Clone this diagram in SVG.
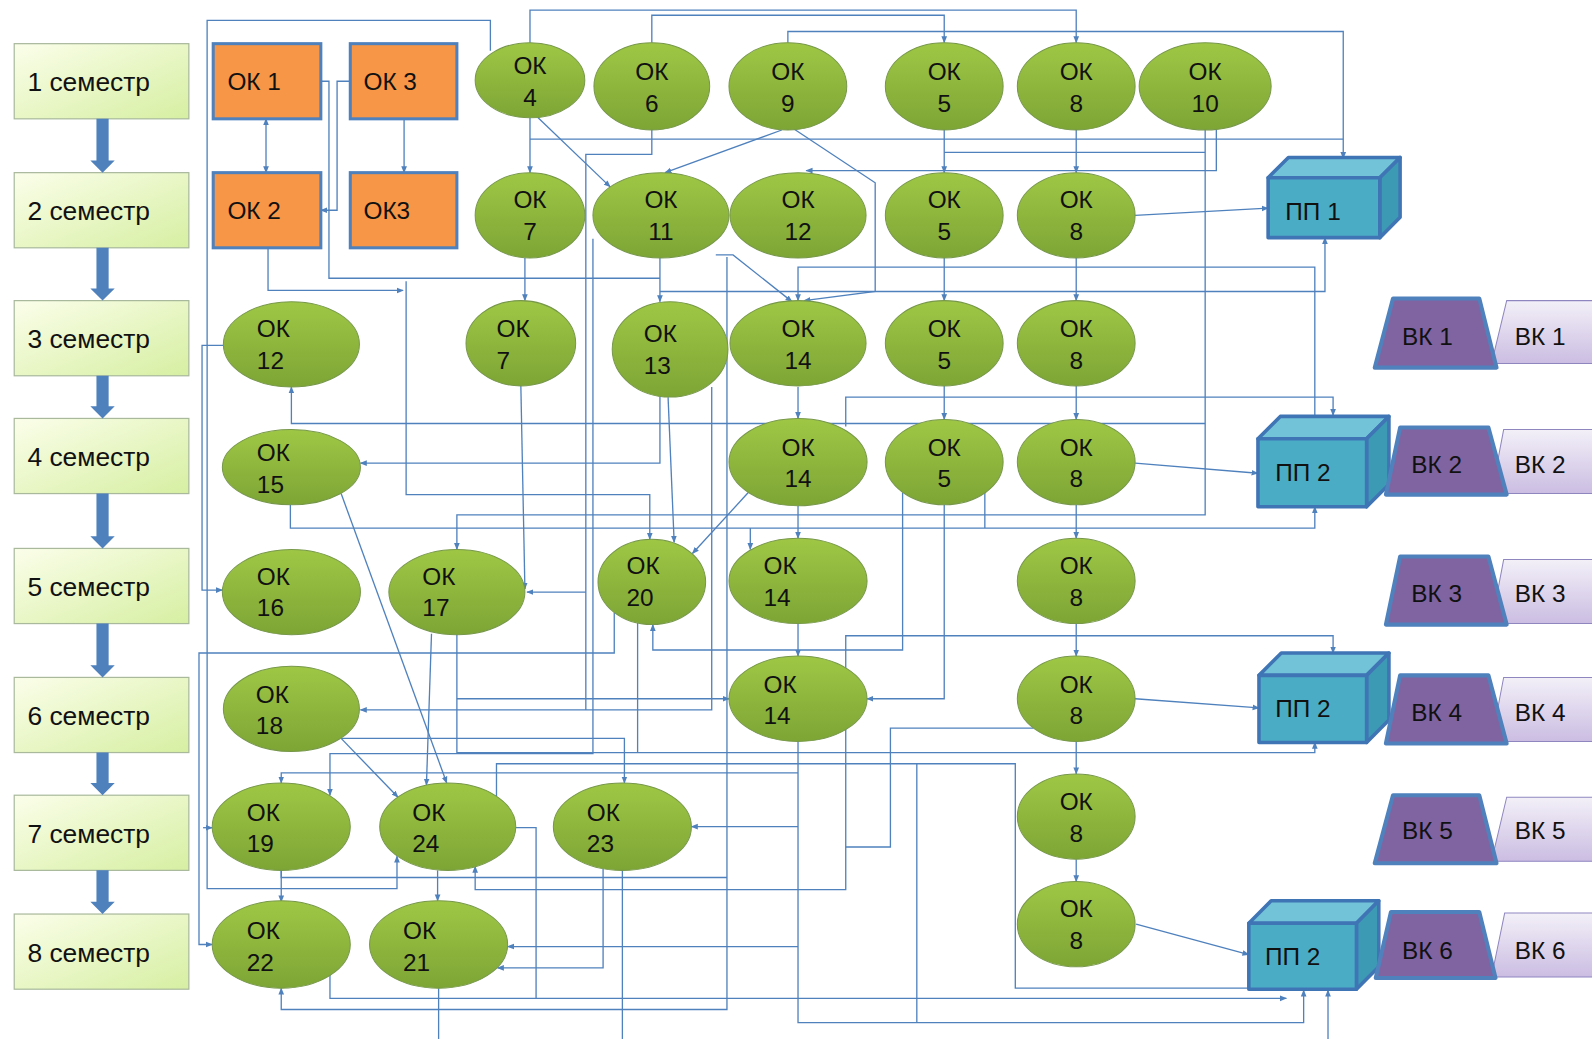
<svg xmlns="http://www.w3.org/2000/svg" width="1592" height="1039" viewBox="0 0 1592 1039">
<defs>
<style>
.t{font-family:"Liberation Sans",Arial,sans-serif;font-size:24px;fill:#111}
.st{font-family:"Liberation Sans",Arial,sans-serif;font-size:26px;fill:#111}
.m{text-anchor:middle}
.ok{fill:url(#gOK);stroke:#77984a;stroke-width:1}
.sem{fill:url(#gSem);stroke:#a9b99c;stroke-width:1.2}
.or{fill:#f79646;stroke:#4f81bd;stroke-width:3}
.c{fill:none;stroke:#4f81bd;stroke-width:1.3}
.a{marker-end:url(#ah)}
.sa{fill:#4f81bd}
.pp{stroke:#3f74b5;stroke-width:3.5;stroke-linejoin:round}
.vd{fill:#8064a2;stroke:#4f81bd;stroke-width:4;stroke-linejoin:round}
.vl{fill:url(#gVK);stroke:#8f86c0;stroke-width:1}
</style>
<linearGradient id="gOK" x1="0" y1="0" x2="0" y2="1"><stop offset="0" stop-color="#9fc745"/><stop offset="1" stop-color="#7da535"/></linearGradient>
<linearGradient id="gSem" x1="0" y1="0" x2="1" y2="1"><stop offset="0" stop-color="#fbfeea"/><stop offset="1" stop-color="#d6efa2"/></linearGradient>
<linearGradient id="gVK" x1="0" y1="0" x2="0" y2="1"><stop offset="0" stop-color="#f3f0f8"/><stop offset="1" stop-color="#cbbde2"/></linearGradient>
<marker id="ah" viewBox="0 0 10 10" refX="9" refY="5" markerWidth="7" markerHeight="7" markerUnits="userSpaceOnUse" orient="auto-start-reverse"><path d="M0,1 L10,5 L0,9 z" fill="#4f81bd"/></marker>
</defs>
<rect width="1592" height="1039" fill="#fff"/>
<g transform="scale(1.0153,1.0156)">

<g id="connectors">
<path class="c a" d="M522,42 V10 H1060 V42"/>
<path class="c a" d="M642,42 V15 H930 V42"/>
<path class="c a" d="M776,42 V31 H1323 V156"/>
<path class="c a" d="M483,50 V20 H204 V875 H391 V843"/>
<path class="c a" d="M200,815 H209"/>
<path class="c a" d="M262,117 V170" style="marker-start:url(#ah)"/>
<path class="c a" d="M398,117 V170"/>
<path class="c a" d="M345,80 H332 V207 H316"/>
<path class="c" d="M316,80 H324 V274 H650"/>
<path class="c a" d="M650,287 H1305 V234"/>
<path class="c a" d="M264,244 V286 H397"/>
<path class="c a" d="M400,277 V487 H640 V531"/>
<path class="c a" d="M522,116 V170"/>
<path class="c" d="M522,137 H1323"/>
<path class="c a" d="M530,116 L601,184"/>
<path class="c" d="M642,128 V152 H577 V699"/>
<path class="c a" d="M770,128 L655,170"/>
<path class="c a" d="M782,127 L862,180 V287 L792,296"/>
<path class="c a" d="M930,128 V170"/>
<path class="c a" d="M1060,128 V170"/>
<path class="c a" d="M1198,127 V168 H794"/>
<path class="c" d="M1187,150 H930"/>
<path class="c a" d="M1187,128 V507 H450 V541"/>
<path class="c a" d="M1118,212 L1249,205"/>
<path class="c a" d="M930,254 V296"/>
<path class="c a" d="M1060,254 V296"/>
<path class="c a" d="M517,254 V296"/>
<path class="c a" d="M650,254 V297"/>
<path class="c a" d="M705,251 H722 L780,297"/>
<path class="c a" d="M716,253 V994 H277 V973"/>
<path class="c a" d="M1295,431 V263 H786 V296"/>
<path class="c a" d="M1187,417 H287 V381"/>
<path class="c a" d="M833,420 V391 H1313 V409"/>
<path class="c a" d="M650,391 V456 H355"/>
<path class="c a" d="M658,391 L664,534"/>
<path class="c a" d="M513,380 L517,580"/>
<path class="c a" d="M577,583 H519"/>
<path class="c a" d="M286,497 V520 H1295 V499"/>
<path class="c a" d="M739,520 V541"/>
<path class="c" d="M970,485 V520"/>
<path class="c a" d="M737,485 L682,545"/>
<path class="c a" d="M786,381 V412"/>
<path class="c a" d="M930,380 V413"/>
<path class="c a" d="M1060,380 V413"/>
<path class="c a" d="M786,498 V530"/>
<path class="c a" d="M1060,497 V530"/>
<path class="c a" d="M1060,614 V646"/>
<path class="c a" d="M786,614 V646"/>
<path class="c a" d="M1118,456 L1239,466"/>
<path class="c a" d="M889,485 V640 H643 V615"/>
<path class="c a" d="M930,497 V688 H854"/>
<path class="c a" d="M605,603 V643 H196 V930 H209"/>
<path class="c a" d="M220,340 H199 V581 H219"/>
<path class="c a" d="M701,381 V699 H355"/>
<path class="c a" d="M584,235 V742 H325 V783"/>
<path class="c a" d="M425,624 L420,773"/>
<path class="c a" d="M336,486 L440,771"/>
<path class="c a" d="M336,727 L392,785"/>
<path class="c a" d="M336,727 H615 V771"/>
<path class="c a" d="M450,624 V741 H1295 V731"/>
<path class="c" d="M628,613 V741"/>
<path class="c a" d="M450,688 H718"/>
<path class="c a" d="M786,730 V1007 H1284 V975"/>
<path class="c a" d="M786,761 H277 V771"/>
<path class="c a" d="M786,814 H681"/>
<path class="c a" d="M786,932 H500"/>
<path class="c a" d="M468,853 V876 H833 V626 H1313 V643" style="marker-start:url(#ah)"/>
<path class="c" d="M1018,717 H877 V834 H833"/>
<path class="c a" d="M489,784 V752 H1000 V973 H1257"/>
<path class="c" d="M903,752 V1007"/>
<path class="c a" d="M277,857 V888"/>
<path class="c" d="M277,857 V864 H716"/>
<path class="c a" d="M325,960 V983 H1267"/>
<path class="c" d="M508,815 H528 V983"/>
<path class="c a" d="M594,855 V953 H490"/>
<path class="c" d="M613,857 V1023"/>
<path class="c" d="M432,973 V1023"/>
<path class="c a" d="M431,857 V887"/>
<path class="c a" d="M1308,1023 V975"/>
<path class="c a" d="M1060,730 V762"/>
<path class="c a" d="M1060,846 V868"/>
<path class="c a" d="M1118,688 L1240,697"/>
<path class="c a" d="M1119,910 L1230,940"/>
</g>

<g id="semesters">
<g id="sem1"><rect class="sem" x="14" y="43" width="172" height="74"/><text class="st" x="27" y="90">1 семестр</text></g>
<g id="sem2"><rect class="sem" x="14" y="170" width="172" height="74"/><text class="st" x="27" y="217">2 семестр</text></g>
<g id="sem3"><rect class="sem" x="14" y="296" width="172" height="74"/><text class="st" x="27" y="343">3 семестр</text></g>
<g id="sem4"><rect class="sem" x="14" y="412" width="172" height="74"/><text class="st" x="27" y="459">4 семестр</text></g>
<g id="sem5"><rect class="sem" x="14" y="540" width="172" height="74"/><text class="st" x="27" y="587">5 семестр</text></g>
<g id="sem6"><rect class="sem" x="14" y="667" width="172" height="74"/><text class="st" x="27" y="714">6 семестр</text></g>
<g id="sem7"><rect class="sem" x="14" y="783" width="172" height="74"/><text class="st" x="27" y="830">7 семестр</text></g>
<g id="sem8"><rect class="sem" x="14" y="900" width="172" height="74"/><text class="st" x="27" y="947">8 семестр</text></g>
<g id="sem-arrows">
<polygon class="sa" points="95,117 107,117 107,158 113,158 101,170 89,158 95,158"/>
<polygon class="sa" points="95,244 107,244 107,284 113,284 101,296 89,284 95,284"/>
<polygon class="sa" points="95,370 107,370 107,400 113,400 101,412 89,400 95,400"/>
<polygon class="sa" points="95,486 107,486 107,528 113,528 101,540 89,528 95,528"/>
<polygon class="sa" points="95,614 107,614 107,655 113,655 101,667 89,655 95,655"/>
<polygon class="sa" points="95,741 107,741 107,771 113,771 101,783 89,771 95,771"/>
<polygon class="sa" points="95,857 107,857 107,888 113,888 101,900 89,888 95,888"/>
</g>
</g>

<g id="ok1"><rect class="or" x="210" y="43" width="106" height="74"/><text class="t" x="224" y="89">ОК 1</text></g>
<g id="ok3"><rect class="or" x="345" y="43" width="105" height="74"/><text class="t" x="358" y="89">ОК 3</text></g>
<g id="ok2"><rect class="or" x="210" y="170" width="106" height="74"/><text class="t" x="224" y="216">ОК 2</text></g>
<g id="ok3b"><rect class="or" x="345" y="170" width="105" height="74"/><text class="t" x="358" y="216">ОК3</text></g>

<g id="ok4"><ellipse class="ok" cx="522" cy="79" rx="54" ry="37"/><text class="t m" x="522" y="73">ОК</text><text class="t m" x="522" y="104">4</text></g>
<g id="ok6"><ellipse class="ok" cx="642" cy="85" rx="57" ry="43"/><text class="t m" x="642" y="79">ОК</text><text class="t m" x="642" y="110">6</text></g>
<g id="ok9"><ellipse class="ok" cx="776" cy="85" rx="58" ry="43"/><text class="t m" x="776" y="79">ОК</text><text class="t m" x="776" y="110">9</text></g>
<g id="ok5-1"><ellipse class="ok" cx="930" cy="85" rx="58" ry="43"/><text class="t m" x="930" y="79">ОК</text><text class="t m" x="930" y="110">5</text></g>
<g id="ok8-1"><ellipse class="ok" cx="1060" cy="85" rx="58" ry="43"/><text class="t m" x="1060" y="79">ОК</text><text class="t m" x="1060" y="110">8</text></g>
<g id="ok10"><ellipse class="ok" cx="1187" cy="85" rx="65" ry="43"/><text class="t m" x="1187" y="79">ОК</text><text class="t m" x="1187" y="110">10</text></g>

<g id="ok7-2"><ellipse class="ok" cx="522" cy="212" rx="54" ry="42"/><text class="t m" x="522" y="205">ОК</text><text class="t m" x="522" y="236">7</text></g>
<g id="ok11"><ellipse class="ok" cx="651" cy="212" rx="67" ry="42"/><text class="t m" x="651" y="205">ОК</text><text class="t m" x="651" y="236">11</text></g>
<g id="ok12-2"><ellipse class="ok" cx="786" cy="212" rx="67" ry="42"/><text class="t m" x="786" y="205">ОК</text><text class="t m" x="786" y="236">12</text></g>
<g id="ok5-2"><ellipse class="ok" cx="930" cy="212" rx="58" ry="42"/><text class="t m" x="930" y="205">ОК</text><text class="t m" x="930" y="236">5</text></g>
<g id="ok8-2"><ellipse class="ok" cx="1060" cy="212" rx="58" ry="42"/><text class="t m" x="1060" y="205">ОК</text><text class="t m" x="1060" y="236">8</text></g>

<g id="ok12-3"><ellipse class="ok" cx="287" cy="339" rx="67" ry="42"/><text class="t" x="253" y="332">ОК</text><text class="t" x="253" y="363">12</text></g>
<g id="ok7-3"><ellipse class="ok" cx="513" cy="338" rx="54" ry="42"/><text class="t" x="489" y="332">ОК</text><text class="t" x="489" y="363">7</text></g>
<g id="ok13"><ellipse class="ok" cx="660" cy="344" rx="57" ry="47"/><text class="t" x="634" y="337">ОК</text><text class="t" x="634" y="368">13</text></g>
<g id="ok14-3"><ellipse class="ok" cx="786" cy="338" rx="67" ry="42"/><text class="t m" x="786" y="332">ОК</text><text class="t m" x="786" y="363">14</text></g>
<g id="ok5-3"><ellipse class="ok" cx="930" cy="338" rx="58" ry="42"/><text class="t m" x="930" y="332">ОК</text><text class="t m" x="930" y="363">5</text></g>
<g id="ok8-3"><ellipse class="ok" cx="1060" cy="338" rx="58" ry="42"/><text class="t m" x="1060" y="332">ОК</text><text class="t m" x="1060" y="363">8</text></g>

<g id="ok15"><ellipse class="ok" cx="287" cy="460" rx="68" ry="37"/><text class="t" x="253" y="454">ОК</text><text class="t" x="253" y="485">15</text></g>
<g id="ok14-4"><ellipse class="ok" cx="786" cy="455" rx="68" ry="43"/><text class="t m" x="786" y="449">ОК</text><text class="t m" x="786" y="480">14</text></g>
<g id="ok5-4"><ellipse class="ok" cx="930" cy="455" rx="58" ry="42"/><text class="t m" x="930" y="449">ОК</text><text class="t m" x="930" y="480">5</text></g>
<g id="ok8-4"><ellipse class="ok" cx="1060" cy="455" rx="58" ry="42"/><text class="t m" x="1060" y="449">ОК</text><text class="t m" x="1060" y="480">8</text></g>

<g id="ok16"><ellipse class="ok" cx="287" cy="583" rx="68" ry="42"/><text class="t" x="253" y="576">ОК</text><text class="t" x="253" y="607">16</text></g>
<g id="ok17"><ellipse class="ok" cx="450" cy="583" rx="67" ry="42"/><text class="t" x="416" y="576">ОК</text><text class="t" x="416" y="607">17</text></g>
<g id="ok20"><ellipse class="ok" cx="642" cy="573" rx="53" ry="42"/><text class="t" x="617" y="565">ОК</text><text class="t" x="617" y="597">20</text></g>
<g id="ok14-5"><ellipse class="ok" cx="786" cy="572" rx="68" ry="42"/><text class="t" x="752" y="565">ОК</text><text class="t" x="752" y="597">14</text></g>
<g id="ok8-5"><ellipse class="ok" cx="1060" cy="572" rx="58" ry="42"/><text class="t m" x="1060" y="565">ОК</text><text class="t m" x="1060" y="597">8</text></g>

<g id="ok18"><ellipse class="ok" cx="287" cy="698" rx="67" ry="42"/><text class="t" x="252" y="692">ОК</text><text class="t" x="252" y="723">18</text></g>
<g id="ok14-6"><ellipse class="ok" cx="786" cy="688" rx="68" ry="42"/><text class="t" x="752" y="682">ОК</text><text class="t" x="752" y="713">14</text></g>
<g id="ok8-6"><ellipse class="ok" cx="1060" cy="688" rx="58" ry="42"/><text class="t m" x="1060" y="682">ОК</text><text class="t m" x="1060" y="713">8</text></g>

<g id="ok19"><ellipse class="ok" cx="277" cy="814" rx="68" ry="43"/><text class="t" x="243" y="808">ОК</text><text class="t" x="243" y="839">19</text></g>
<g id="ok24"><ellipse class="ok" cx="441" cy="814" rx="67" ry="43"/><text class="t" x="406" y="808">ОК</text><text class="t" x="406" y="839">24</text></g>
<g id="ok23"><ellipse class="ok" cx="613" cy="814" rx="68" ry="43"/><text class="t" x="578" y="808">ОК</text><text class="t" x="578" y="839">23</text></g>
<g id="ok8-7"><ellipse class="ok" cx="1060" cy="804" rx="58" ry="42"/><text class="t m" x="1060" y="798">ОК</text><text class="t m" x="1060" y="829">8</text></g>

<g id="ok22"><ellipse class="ok" cx="277" cy="930" rx="68" ry="43"/><text class="t" x="243" y="925">ОК</text><text class="t" x="243" y="956">22</text></g>
<g id="ok21"><ellipse class="ok" cx="432" cy="930" rx="68" ry="43"/><text class="t" x="397" y="925">ОК</text><text class="t" x="397" y="956">21</text></g>
<g id="ok8-8"><ellipse class="ok" cx="1060" cy="910" rx="58" ry="42"/><text class="t m" x="1060" y="903">ОК</text><text class="t m" x="1060" y="934">8</text></g>

<g id="pp1">
<polygon class="pp" fill="#72c3d8" points="1249,175 1269,155 1379,155 1359,175"/>
<polygon class="pp" fill="#3d9ab5" points="1359,175 1379,155 1379,214 1359,234"/>
<rect class="pp" fill="#4bacc6" x="1249" y="175" width="110" height="59"/>
<text class="t" x="1266" y="217">ПП 1</text>
</g>
<g id="pp2a">
<polygon class="pp" fill="#72c3d8" points="1239,432 1261,410 1368,410 1346,432"/>
<polygon class="pp" fill="#3d9ab5" points="1346,432 1368,410 1368,477 1346,499"/>
<rect class="pp" fill="#4bacc6" x="1239" y="432" width="107" height="67"/>
<text class="t" x="1256" y="474">ПП 2</text>
</g>
<g id="pp2b">
<polygon class="pp" fill="#72c3d8" points="1240,665 1262,643 1368,643 1346,665"/>
<polygon class="pp" fill="#3d9ab5" points="1346,665 1368,643 1368,709 1346,731"/>
<rect class="pp" fill="#4bacc6" x="1240" y="665" width="106" height="66"/>
<text class="t" x="1256" y="706">ПП 2</text>
</g>
<g id="pp2c">
<polygon class="pp" fill="#72c3d8" points="1230,909 1252,887 1358,887 1336,909"/>
<polygon class="pp" fill="#3d9ab5" points="1336,909 1358,887 1358,952 1336,974"/>
<rect class="pp" fill="#4bacc6" x="1230" y="909" width="106" height="65"/>
<text class="t" x="1246" y="950">ПП 2</text>
</g>

<g id="vk1"><polygon class="vl" points="1469,358 1484,296 1600,296 1600,358"/><polygon class="vd" points="1354,362 1372,294 1457,294 1474,362"/><text class="t" x="1381" y="340">ВК 1</text><text class="t" x="1492" y="340">ВК 1</text></g>
<g id="vk2"><polygon class="vl" points="1469,486 1481,423 1600,423 1600,486"/><polygon class="vd" points="1365,487 1379,421 1466,421 1484,487"/><text class="t" x="1390" y="466">ВК 2</text><text class="t" x="1492" y="466">ВК 2</text></g>
<g id="vk3"><polygon class="vl" points="1469,614 1481,551 1600,551 1600,614"/><polygon class="vd" points="1365,615 1379,548 1466,548 1484,615"/><text class="t" x="1390" y="593">ВК 3</text><text class="t" x="1492" y="593">ВК 3</text></g>
<g id="vk4"><polygon class="vl" points="1469,730 1481,667 1600,667 1600,730"/><polygon class="vd" points="1365,732 1379,665 1466,665 1484,732"/><text class="t" x="1390" y="710">ВК 4</text><text class="t" x="1492" y="710">ВК 4</text></g>
<g id="vk5"><polygon class="vl" points="1469,848 1484,785 1600,785 1600,848"/><polygon class="vd" points="1354,850 1372,783 1457,783 1474,850"/><text class="t" x="1381" y="826">ВК 5</text><text class="t" x="1492" y="826">ВК 5</text></g>
<g id="vk6"><polygon class="vl" points="1469,962 1482,899 1600,899 1600,962"/><polygon class="vd" points="1355,963 1370,898 1457,898 1473,963"/><text class="t" x="1381" y="944">ВК 6</text><text class="t" x="1492" y="944">ВК 6</text></g>

</g>
</svg>
